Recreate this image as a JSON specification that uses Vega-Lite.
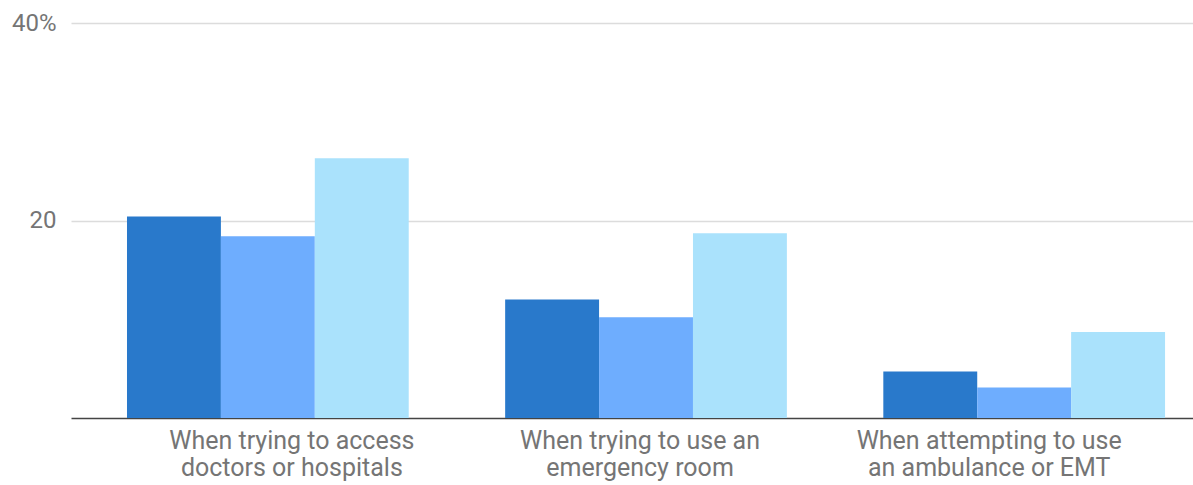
{
  "$schema": "https://vega.github.io/schema/vega-lite/v6.json",
  "autosize": "none",
  "padding": {"left": 71, "top": 23, "right": 0, "bottom": 67},
  "width": 1122,
  "height": 395,
  "background": "white",
  "data": {
    "values": [
      {"category": "When trying to access doctors or hospitals", "series": "Series 1", "value": 20.4},
      {"category": "When trying to access doctors or hospitals", "series": "Series 2", "value": 18.4},
      {"category": "When trying to access doctors or hospitals", "series": "Series 3", "value": 26.3},
      {"category": "When trying to use an emergency room", "series": "Series 1", "value": 12.0},
      {"category": "When trying to use an emergency room", "series": "Series 2", "value": 10.2},
      {"category": "When trying to use an emergency room", "series": "Series 3", "value": 18.7},
      {"category": "When attempting to use an ambulance or EMT", "series": "Series 1", "value": 4.7},
      {"category": "When attempting to use an ambulance or EMT", "series": "Series 2", "value": 3.1},
      {"category": "When attempting to use an ambulance or EMT", "series": "Series 3", "value": 8.7}
    ]
  },
  "mark": {"type": "bar"},
  "encoding": {
    "x": {
      "field": "category",
      "type": "nominal",
      "sort": null,
      "scale": {"paddingInner": 0.255, "paddingOuter": 0.111, "align": 0.667, "round": false},
      "axis": {
        "title": null,
        "labelAngle": 0,
        "ticks": false,
        "tickSize": 0,
        "domainColor": "#444444",
        "domainWidth": 1.5,
        "labelFont": "Roboto",
        "labelFontSize": 25,
        "labelColor": "#757575",
        "labelPadding": 10,
        "labelLineHeight": 27,
        "labelBaseline": "top",
        "labelLimit": 0,
        "labelOverlap": false,
        "labelOffset": {
          "condition": [
            {"test": "datum.value == 'When trying to access doctors or hospitals'", "value": 24},
            {"test": "datum.value == 'When attempting to use an ambulance or EMT'", "value": -35}
          ],
          "value": -6
        },
        "labelExpr": "datum.value == 'When trying to access doctors or hospitals' ? ['When trying to access', 'doctors or hospitals'] : datum.value == 'When trying to use an emergency room' ? ['When trying to use an', 'emergency room'] : ['When attempting to use', 'an ambulance or EMT']"
      }
    },
    "xOffset": {"field": "series", "type": "nominal", "sort": ["Series 1", "Series 2", "Series 3"], "scale": {"paddingInner": 0, "paddingOuter": 0}},
    "y": {
      "field": "value",
      "type": "quantitative",
      "scale": {"domain": [0, 40], "nice": false},
      "axis": {
        "title": null,
        "values": [20, 40],
        "domain": false,
        "ticks": false,
        "tickSize": 0,
        "gridColor": "#dcdcdc",
        "gridWidth": 1.5,
        "labelFont": "Roboto",
        "labelFontSize": 24,
        "labelColor": "#757575",
        "labelPadding": 15,
        "labelExpr": "datum.value == 40 ? '40%' : datum.label"
      }
    },
    "color": {
      "field": "series",
      "type": "nominal",
      "scale": {"domain": ["Series 1", "Series 2", "Series 3"], "range": ["#2979cb", "#6eadfe", "#aae2fc"]},
      "legend": null
    }
  },
  "config": {"view": {"stroke": null}}
}
